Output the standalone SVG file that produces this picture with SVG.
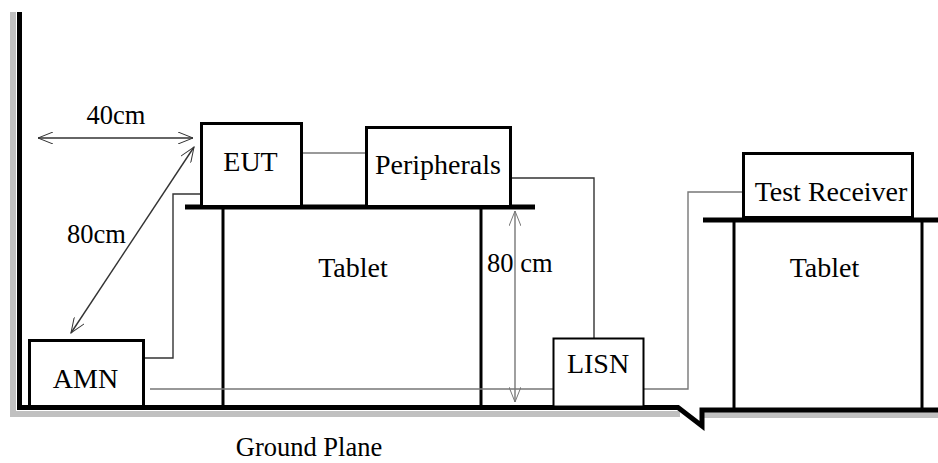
<svg xmlns="http://www.w3.org/2000/svg" width="938" height="463" viewBox="0 0 938 463">
<defs>
<marker id="open" viewBox="0 0 16 12" refX="15" refY="6" markerWidth="16" markerHeight="12" markerUnits="userSpaceOnUse" orient="auto-start-reverse">
<path d="M0,0 L15,6 L0,12" fill="none" stroke="#333" stroke-width="1"/>
</marker>
<marker id="openg" viewBox="0 0 16 12" refX="15" refY="6" markerWidth="16" markerHeight="12" markerUnits="userSpaceOnUse" orient="auto-start-reverse">
<path d="M0,0 L15,6 L0,12" fill="none" stroke="#777" stroke-width="1"/>
</marker>
</defs>
<style>
text{fill:#000;text-anchor:middle}
.lbl{font-size:28px}
.dim{font-size:26.5px}
.box{fill:#fff;stroke:#000;stroke-width:3}
.thick{stroke:#000;stroke-width:5;fill:none}
.leg{stroke:#000;stroke-width:3;fill:none}
.wire{fill:none;stroke:#777;stroke-width:1.4}
.wired{fill:none;stroke:#333;stroke-width:1.4}
</style>
<rect width="938" height="463" fill="#fff"/>
<g font-family="'Liberation Serif', 'DejaVu Serif', serif">
<g id="ground">
<polyline points="13,12 13,414 680,414" fill="none" stroke="#c0c0c0" stroke-width="6"/>
<line x1="702" y1="415" x2="938" y2="415" stroke="#c0c0c0" stroke-width="6"/>
<polyline class="thick" points="19.5,12 19.5,407.5 678,407.5 702,426 702,410 938,410"/>
<text class="dim" x="309" y="456">Ground Plane</text>
</g>
<g id="table1">
<line class="thick" x1="185" y1="207" x2="535" y2="207"/>
<line class="leg" x1="223" y1="207" x2="223" y2="407"/>
<line class="leg" x1="481" y1="207" x2="481" y2="407"/>
<text class="lbl" x="353" y="277">Tablet</text>
</g>
<g id="table2">
<line class="thick" x1="703" y1="220" x2="938" y2="220"/>
<line class="leg" x1="734" y1="220" x2="734" y2="408"/>
<line class="leg" x1="922" y1="220" x2="922" y2="408"/>
<text class="lbl" x="824.5" y="277">Tablet</text>
</g>
<g id="connectors">
<polyline class="wired" points="143,358 173,358 173,194 202,194"/>
<line class="wire" x1="301" y1="153" x2="366" y2="153"/>
<polyline class="wired" points="510,178 594,178 594,338"/>
<polyline class="wire" points="150,389 688,389 688,192 743,192"/>
<line class="wired" x1="38" y1="138" x2="193" y2="138" marker-start="url(#open)" marker-end="url(#open)"/>
<line class="wired" x1="71" y1="333" x2="194" y2="147" marker-start="url(#open)" marker-end="url(#open)"/>
<line class="wire" x1="515" y1="211" x2="515" y2="402" marker-start="url(#openg)" marker-end="url(#openg)"/>
<text class="dim" x="116" y="124">40cm</text>
<text class="dim" x="96.5" y="243">80cm</text>
<text class="dim" x="487" y="272" style="text-anchor:start">80 cm</text>
</g>
<g id="eut">
<rect class="box" x="201.5" y="123.5" width="100" height="83"/>
<text class="lbl" x="250.5" y="171">EUT</text>
</g>
<g id="peripherals">
<rect class="box" x="366.5" y="127.5" width="144" height="79"/>
<text class="lbl" x="438" y="174">Peripherals</text>
</g>
<g id="amn">
<rect class="box" x="29.5" y="340.5" width="114" height="66"/>
<text class="lbl" x="85.5" y="388">AMN</text>
</g>
<g id="lisn">
<rect class="box" x="553.5" y="338.5" width="90" height="68" style="stroke-width:2"/>
<text class="lbl" x="598" y="373">LISN</text>
</g>
<g id="receiver">
<rect class="box" x="743.5" y="153.5" width="169" height="64"/>
<text class="lbl" x="831" y="201">Test Receiver</text>
</g>
</g>
</svg>
